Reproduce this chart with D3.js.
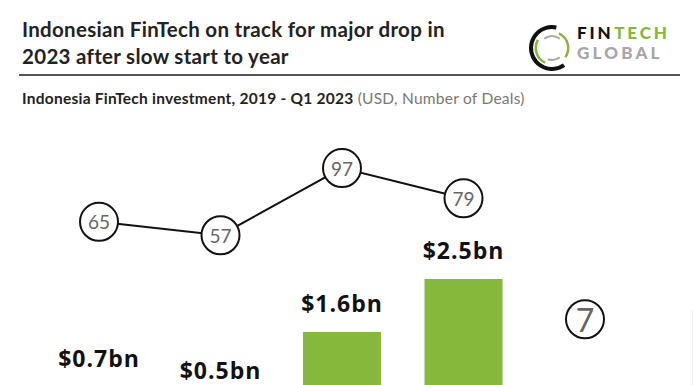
<!DOCTYPE html>
<html>
<head>
<meta charset="utf-8">
<script src="https://cdn.jsdelivr.net/npm/d3@7"></script>
<style>
  body { margin: 0; background: #fff; }
  svg { display: block; }
</style>
</head>
<body>
<div id="grafico"></div>
<script>
// Datos del gráfico
const categorias = ['2019', '2020', '2021', '2022', 'Q1 2023'];
const inversion = [0.66, 0.46, 1.6, 2.5, 0.05];   // USD bn
const etiquetas = ['$0.7bn', '$0.5bn', '$1.6bn', '$2.5bn', ''];
const deals = [65, 57, 97, 79, 7];

const w = 696;
const h = 385;
const verde = '#86b83b';

const svg = d3.select('#grafico')
  .append('svg')
  .attr('width', w)
  .attr('height', h);

// Escalas
const xScale = d3.scalePoint()
  .domain(categorias)
  .range([99, 585]);

const yBar = d3.scaleLinear()
  .domain([0, 2.5])
  .range([426, 279]);

const yDeals = d3.scaleLinear()
  .domain([0, 100])
  .range([331, 163]);

const anchoBarra = 78;

// Titulo
const titulo = svg.append('text')
  .attr('x', 22)
  .attr('y', 37)
  .style('font-family', 'Lato, sans-serif')
  .style('font-weight', 'bold')
  .style('font-size', '20.5px')
  .style('letter-spacing', '0.3px')
  .attr('fill', '#222');
titulo.append('tspan').attr('x', 22).text('Indonesian FinTech on track for major drop in');
titulo.append('tspan').attr('x', 22).attr('dy', 27).text('2023 after slow start to year');

// Linea separadora
svg.append('line')
  .attr('x1', 19).attr('x2', 680)
  .attr('y1', 75).attr('y2', 75)
  .attr('stroke', '#555')
  .attr('stroke-width', 2);

// Subtitulo
const sub = svg.append('text')
  .attr('x', 22)
  .attr('y', 104)
  .style('font-family', 'Lato, sans-serif')
  .style('font-size', '15.5px')
  .style('letter-spacing', '0.25px');
sub.append('tspan').style('font-weight', 'bold').attr('fill', '#222')
  .text('Indonesia FinTech investment, 2019 - Q1 2023');
sub.append('tspan').attr('fill', '#777').text(' (USD, Number of Deals)');

// Logo
const logo = svg.append('g').attr('transform', 'translate(552,48)');
const arco = d3.arc();
const grados = (g) => g * Math.PI / 180;
logo.append('path')
  .attr('d', arco({innerRadius: 19, outerRadius: 23, startAngle: grados(145), endAngle: grados(372)}))
  .attr('fill', '#111');
logo.append('path')
  .attr('d', arco({innerRadius: 15, outerRadius: 17.5, startAngle: grados(25), endAngle: grados(125)}))
  .attr('fill', verde);
logo.append('path')
  .attr('d', arco({innerRadius: 15, outerRadius: 17.5, startAngle: grados(205), endAngle: grados(300)}))
  .attr('fill', verde);
logo.append('path')
  .attr('d', arco({innerRadius: 11, outerRadius: 13, startAngle: grados(320), endAngle: grados(400)}))
  .attr('fill', '#aaa');
logo.append('path')
  .attr('d', arco({innerRadius: 11, outerRadius: 13, startAngle: grados(140), endAngle: grados(200)}))
  .attr('fill', '#aaa');

const estiloLogo = (t) => t
  .style('font-family', 'Lato, sans-serif')
  .style('font-weight', '900')
  .style('font-size', '17px')
  .style('letter-spacing', '2.9px');

const fin = svg.append('text')
  .attr('x', 577).attr('y', 38.5)
  .attr('fill', '#111')
  .call(estiloLogo)
  .text('FIN');
const anchoFin = fin.node().getComputedTextLength();
svg.append('text')
  .attr('x', 577 + anchoFin + 0.5).attr('y', 38.5)
  .attr('fill', verde)
  .call(estiloLogo)
  .text('TECH');
svg.append('text')
  .attr('x', 577).attr('y', 59)
  .attr('fill', '#a6a6a6')
  .call(estiloLogo)
  .style('letter-spacing', '3.2px')
  .text('GLOBAL');

// Borde tenue a la derecha
svg.append('line')
  .attr('x1', 692.5).attr('x2', 692.5)
  .attr('y1', 310).attr('y2', h)
  .attr('stroke', '#eee')
  .attr('stroke-width', 1);

// Barras
svg.selectAll('rect.barra')
  .data(inversion)
  .enter()
  .append('rect')
  .attr('class', 'barra')
  .attr('x', (d, i) => xScale(categorias[i]) - anchoBarra / 2)
  .attr('y', (d) => yBar(d))
  .attr('width', anchoBarra)
  .attr('height', (d) => yBar(0) - yBar(d))
  .attr('fill', verde);

// Etiquetas de barras
svg.selectAll('text.etq')
  .data(inversion)
  .enter()
  .append('text')
  .attr('class', 'etq')
  .attr('x', (d, i) => xScale(categorias[i]))
  .attr('y', (d) => yBar(d) - 20)
  .attr('text-anchor', 'middle')
  .style('font-family', '"Open Sans", sans-serif')
  .style('font-weight', 'bold')
  .style('font-size', '23px')
  .style('letter-spacing', '1px')
  .attr('fill', '#111')
  .text((d, i) => etiquetas[i]);

// Linea de deals (solo años completos)
const puntos = deals.slice(0, 4).map((d, i) => [xScale(categorias[i]), yDeals(d)]);
svg.append('path')
  .datum(puntos)
  .attr('fill', 'none')
  .attr('stroke', '#111')
  .attr('stroke-width', 2)
  .attr('d', d3.line());

// Circulos de deals
svg.selectAll('circle.deal')
  .data(deals)
  .enter()
  .append('circle')
  .attr('class', 'deal')
  .attr('cx', (d, i) => xScale(categorias[i]))
  .attr('cy', (d) => yDeals(d))
  .attr('r', 19)
  .attr('fill', '#fff')
  .attr('stroke', '#111')
  .attr('stroke-width', 2);

svg.selectAll('text.deal')
  .data(deals)
  .enter()
  .append('text')
  .attr('class', 'deal')
  .attr('x', (d, i) => xScale(categorias[i]))
  .attr('y', (d) => yDeals(d))
  .attr('text-anchor', 'middle')
  .attr('dominant-baseline', 'central')
  .style('font-family', 'Lato, sans-serif')
  .style('font-size', (d, i) => i === 4 ? '32px' : '19px')
  .attr('fill', '#666')
  .text((d) => d);
</script>
</body>
</html>
